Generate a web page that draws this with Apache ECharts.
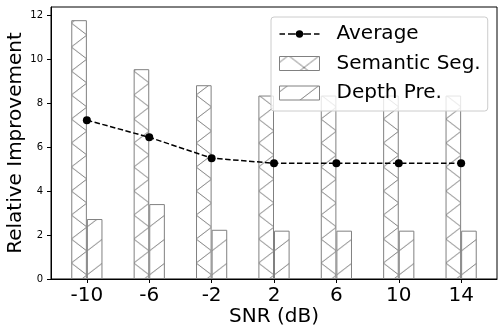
<!DOCTYPE html>
<html>
<head>
<meta charset="utf-8">
<script src="https://cdn.jsdelivr.net/npm/echarts@6/dist/echarts.min.js"></script>
<style>
html,body{margin:0;padding:0;background:#fff;}
#chart{width:501px;height:326px;}
</style>
</head>
<body>
<div id="chart"></div>
<script>
// ---- data ----
const snrLabels = ['-10', '-6', '-2', '2', '6', '10', '14'];
const semanticSeg = [11.78, 9.55, 8.82, 8.35, 8.35, 8.35, 8.35];
const depthPre = [2.73, 3.41, 2.24, 2.2, 2.2, 2.2, 2.2];
const average = [7.23, 6.45, 5.5, 5.27, 5.27, 5.27, 5.27];
const yTicks = [0, 2, 4, 6, 8, 10, 12];
const xTickIdx = snrLabels.map((_, i) => i);

const FONT = 'DejaVu Sans';
const GREY = '#808080';

function makeHatch(kind) {
  const W = 32, H = 24;
  const c = document.createElement('canvas');
  c.width = W; c.height = H;
  const g = c.getContext('2d');
  g.fillStyle = '#ffffff';
  g.fillRect(0, 0, W, H);
  g.strokeStyle = GREY;
  g.lineWidth = 1;
  g.beginPath();
  for (let k = -1; k <= 1; k++) {
    g.moveTo(k * W, H); g.lineTo(W + k * W, 0);           // '/'
    if (kind === 'x') { g.moveTo(k * W, 0); g.lineTo(W + k * W, H); } // '\'
  }
  g.stroke();
  return { image: c, repeat: 'repeat', x: 8.9, y: -1, scaleX: 31.2 / 32 };
}

// legend icon for the dashed line with a dot (40 x 14 box)
const lineIcon = 'path://M0,0M40,14' +
  'M0,6.25h5.5v1.5h-5.5z M8.5,6.25h5.5v1.5h-5.5z' +
  'M26,6.25h5.5v1.5h-5.5z M34.5,6.25h5.5v1.5h-5.5z' +
  'M16.3,7a3.7,3.7 0 1,0 7.4,0a3.7,3.7 0 1,0 -7.4,0z' +
  'M14,6.25h2.5v1.5h-2.5z M23.5,6.25h2.5v1.5h-2.5z';

const chart = echarts.init(document.getElementById('chart'), null, { renderer: 'canvas' });
chart.setOption({
  animation: false,
  backgroundColor: '#fff',
  textStyle: { fontFamily: FONT },
  grid: {
    left: 51, right: 4, top: 7, bottom: 47,
    outerBoundsMode: 'none', containLabel: false,
    show: true, borderColor: '#000', borderWidth: 1, backgroundColor: 'transparent'
  },
  legend: {
    orient: 'vertical',
    left: 271, top: 17,
    itemWidth: 40, itemHeight: 14, itemGap: 9.5,
    padding: [7, 7, 8, 8],
    backgroundColor: 'rgba(255,255,255,0.8)',
    borderColor: '#cccccc', borderWidth: 1, borderRadius: 3,
    textStyle: { fontFamily: FONT, fontSize: 20, color: '#000', lineHeight: 20, padding: [0, 0, 0, 12] },
    data: [
      { name: 'Average', icon: lineIcon, itemStyle: { color: '#000', borderWidth: 0 } },
      { name: 'Semantic Seg.', icon: 'rect', itemStyle: { borderColor: GREY, borderWidth: 1 } },
      { name: 'Depth Pre.', icon: 'rect', itemStyle: { borderColor: GREY, borderWidth: 1 } }
    ]
  },
  xAxis: {
    type: 'value',
    min: -0.575, max: 6.575,
    name: 'SNR (dB)', nameLocation: 'middle', nameGap: 28, nameMoveOverlap: false,
    nameTextStyle: { fontFamily: FONT, fontSize: 20, color: '#000' },
    axisLine: { show: true, onZero: false, lineStyle: { color: '#000', width: 1 } },
    axisTick: { show: true, inside: false, length: 4, customValues: xTickIdx, lineStyle: { color: '#000' } },
    axisLabel: {
      customValues: xTickIdx, margin: 7,
      fontFamily: FONT, fontSize: 20, color: '#000',
      formatter: v => snrLabels[Math.round(v)]
    },
    splitLine: { show: false }
  },
  yAxis: {
    type: 'value',
    min: 0, max: 12.38,
    name: 'Relative Improvement', nameLocation: 'middle', nameGap: 25, nameRotate: 90, nameMoveOverlap: false,
    nameTextStyle: { fontFamily: FONT, fontSize: 20, color: '#000' },
    axisLine: { show: true, onZero: false, lineStyle: { color: '#000', width: 1 } },
    axisTick: { show: true, inside: false, length: 4, customValues: yTicks, lineStyle: { color: '#000' } },
    axisLabel: { customValues: yTicks, margin: 8, fontFamily: FONT, fontSize: 10, color: '#000' },
    splitLine: { show: false }
  },
  series: [
    {
      name: 'Semantic Seg.', type: 'bar', barWidth: 15.6, barGap: '0%',
      itemStyle: { color: makeHatch('x'), borderColor: GREY, borderWidth: 1 },
      data: semanticSeg.map((v, i) => [i, v]), z: 2
    },
    {
      name: 'Depth Pre.', type: 'bar', barWidth: 15.6, barGap: '0%',
      itemStyle: { color: makeHatch('/'), borderColor: GREY, borderWidth: 1 },
      data: depthPre.map((v, i) => [i, v]), z: 2
    },
    {
      name: 'Average', type: 'line',
      symbol: 'circle', symbolSize: 8,
      itemStyle: { color: '#000' },
      lineStyle: { color: '#000', width: 1.5, type: [5.5, 2.5] },
      data: average.map((v, i) => [i, v]), z: 5
    }
  ]
});
</script>
</body>
</html>
